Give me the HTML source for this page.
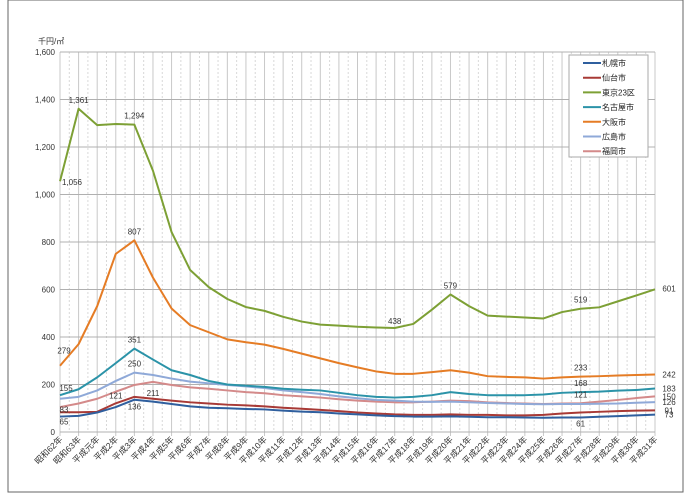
<!DOCTYPE html>
<html><head><meta charset="utf-8"><style>
body{margin:0;background:#fff;}
svg{display:block;font-family:"Liberation Sans","Noto Sans CJK JP",sans-serif;}
</style></head><body>
<svg id="chart" width="700" height="499" viewBox="0 0 700 499">
<rect x="8" y="0" width="675" height="492" fill="#fff" stroke="#666" stroke-width="1"/>
<g id="grid"></g><g id="axes"></g><g id="series"></g><g id="labels"></g><g id="legend"></g>
</svg>
<script>
const categories=["昭和62年","昭和63年","平成元年","平成2年","平成3年","平成4年","平成5年","平成6年","平成7年","平成8年","平成9年","平成10年","平成11年","平成12年","平成13年","平成14年","平成15年","平成16年","平成17年","平成18年","平成19年","平成20年","平成21年","平成22年","平成23年","平成24年","平成25年","平成26年","平成27年","平成28年","平成29年","平成30年","平成31年"];
const yTicks=[0,200,400,600,800,1000,1200,1400,1600];
const seriesNames=["札幌市","仙台市","東京23区","名古屋市","大阪市","広島市","福岡市"];
const sapporo=[65,68,82,105,136,128,118,108,102,100,97,95,90,86,83,78,74,70,67,65,65,66,64,62,62,61,60,61,61,64,67,70,73];
const sendai=[83,83,85,121,148,140,132,125,120,115,112,108,102,98,93,88,82,78,74,72,72,74,72,72,70,70,72,78,82,85,88,90,91];
const tokyo=[1056,1361,1292,1297,1294,1100,842,682,610,560,526,510,485,465,452,448,443,440,438,455,515,579,530,490,486,482,478,505,519,525,550,575,601];
const nagoya=[155,180,230,290,351,305,260,240,215,200,195,190,182,178,175,165,155,148,145,148,155,168,160,155,155,155,158,165,168,170,174,177,183];
const osaka=[279,370,530,750,807,650,520,450,420,390,378,368,350,330,310,290,272,255,245,245,252,260,250,235,232,230,225,230,233,235,238,240,242];
const hiroshima=[140,148,175,215,250,240,225,212,205,198,192,185,175,168,160,150,142,135,132,128,127,128,125,122,120,118,117,118,118,119,120,123,126];
const fukuoka=[105,120,140,170,198,211,198,188,182,175,168,163,155,150,145,138,132,128,125,125,128,132,130,125,122,120,118,120,121,128,135,143,150];
const colors=["#2f5f9e","#a83a36","#7da035","#2b93a8","#e57c25","#8fa9d8","#d48a8a"];
const allSeries=[sapporo,sendai,tokyo,nagoya,osaka,hiroshima,fukuoka];
// annotations: [seriesIndex, categoryIndex, dx, dy]
const annotations=[[2,0,12,4],[2,1,0,-6],[2,4,0,-6],[2,18,0,-4],[2,21,0,-6],[2,28,0,-6],[2,32,14,2],
[4,0,4,-12],[4,4,0,-6],[4,28,0,-6],[4,32,14,3],
[3,0,6,-4],[3,4,0,-6],[3,28,0,-6],[3,32,14,3],
[5,4,0,-6],[5,32,14,3],[6,5,0,14],[6,28,0,-6],[6,32,14,3],
[1,0,4,0],[1,3,0,-5],[1,32,14,3],[0,0,4,8],[0,4,0,10],[0,28,0,9],[0,32,14,3]];
const X0=60,X1=655,Y0=432,Y1=52,YMAX=1600;
const xs=i=>X0+(X1-X0)*i/(categories.length-1);
const ys=v=>Y0-(Y0-Y1)*v/YMAX;
const NS="http://www.w3.org/2000/svg";
function mk(tag,attrs,parent){const e=document.createElementNS(NS,tag);for(const k in attrs)e.setAttribute(k,attrs[k]);parent.appendChild(e);return e;}
const grid=document.getElementById('grid'),axes=document.getElementById('axes'),ser=document.getElementById('series'),lab=document.getElementById('labels'),leg=document.getElementById('legend');
for(let i=0;i<categories.length;i++){
 const l=mk('line',{x1:xs(i),x2:xs(i),y1:Y1,y2:Y0+4,stroke:'#c8c8c8','stroke-width':1},grid);
 
 
 if(i<categories.length-1){const d=mk('line',{x1:xs(i+0.5),x2:xs(i+0.5),y1:Y1,y2:Y0,stroke:'#d8d8d8','stroke-width':1,'stroke-dasharray':'2,2'},grid);
 
 }
 const t=mk('text',{x:xs(i)+3,y:Y0+8,'font-size':8.5,fill:'#333','text-anchor':'end',transform:`rotate(-45 ${xs(i)+3} ${Y0+8})`},axes);
 t.textContent=categories[i];
 
 
}
yTicks.forEach(v=>{
 const l=mk('line',{x1:X0,x2:X1,y1:ys(v),y2:ys(v),stroke:'#b0b0b0','stroke-width':1},grid);
 
 
 const t=mk('text',{x:X0-5,y:ys(v)+3,'font-size':8,fill:'#333','text-anchor':'end'},axes);
 t.textContent=v.toLocaleString('en-US');
 
 
});
const yt=mk('text',{x:38,y:44,'font-size':8,fill:'#333'},axes);yt.textContent='千円/㎡';


const order=[6,5,4,3,2,1,0];
order.forEach(s=>{
 const p=mk('polyline',{points:allSeries[s].map((v,i)=>xs(i)+','+ys(v)).join(' '),fill:'none',stroke:colors[s],'stroke-width':2,'stroke-linejoin':'round'},ser);
 
 
});
annotations.forEach(a=>{
 const v=allSeries[a[0]][a[1]];
 const t=mk('text',{x:xs(a[1])+a[2],y:ys(v)+a[3],'font-size':8,fill:'#333','text-anchor':'middle'},lab);
 t.textContent=v.toLocaleString('en-US');
 
 
});
const lb=mk('rect',{x:569,y:55,width:79,height:102,fill:'#fff',stroke:'#aaa','stroke-width':1},leg);


seriesNames.forEach((n,i)=>{
 const y=63+i*14.7;
 const g=mk('g',{},leg);
 
 
 mk('line',{x1:583,x2:601,y1:y,y2:y,stroke:colors[i],'stroke-width':2},g);
 const t=mk('text',{x:602,y:y+3,'font-size':8,fill:'#222'},g);t.textContent=n;
});
</script>
</body></html>
